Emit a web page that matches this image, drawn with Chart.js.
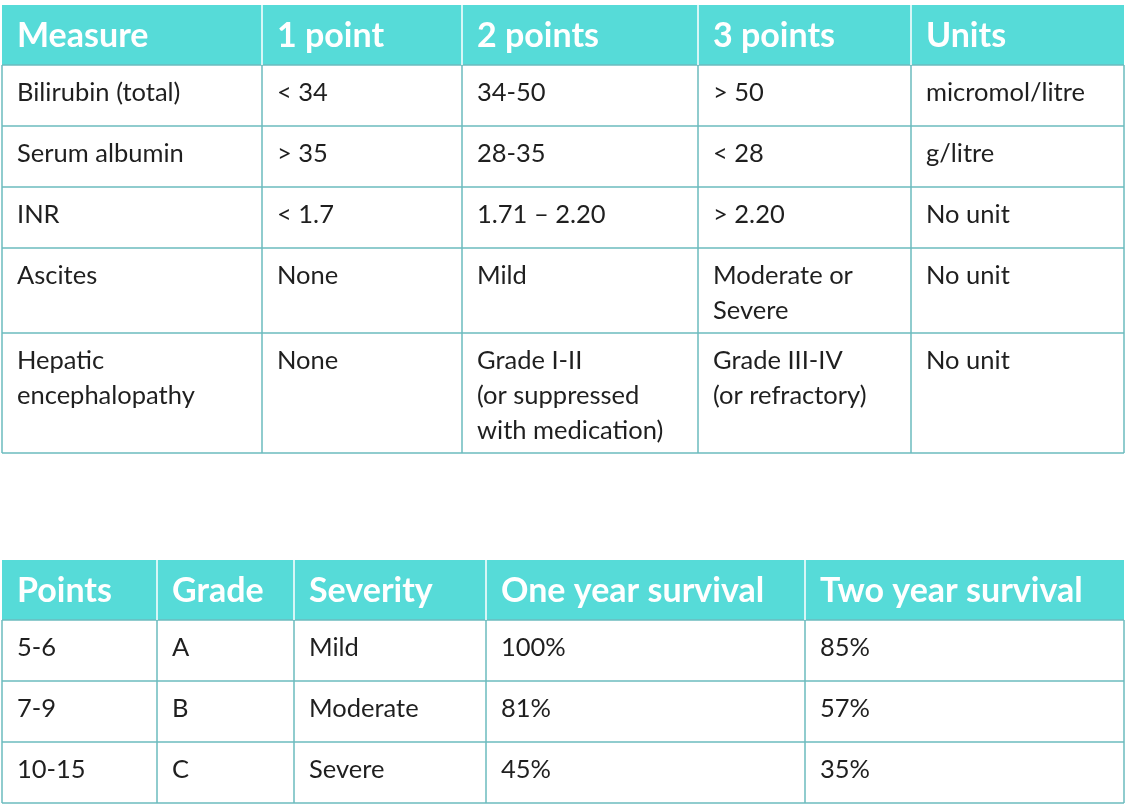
<!DOCTYPE html>
<html>
<head>
<meta charset="utf-8">
<script src="https://cdn.jsdelivr.net/npm/chart.js@4/dist/chart.umd.min.js"></script>
<style>
  html, body { margin: 0; padding: 0; background: #fff; }
  #wrap { width: 1127px; height: 806px; }
</style>
</head>
<body>
<div id="wrap"><canvas id="c" width="1127" height="806"></canvas></div>
<script>
// table 1: scoring criteria
const headers1 = ["Measure", "1 point", "2 points", "3 points", "Units"];
const rows1 = [
  [["Bilirubin (total)"], ["< 34"], ["34-50"], ["> 50"], ["micromol/litre"]],
  [["Serum albumin"], ["> 35"], ["28-35"], ["< 28"], ["g/litre"]],
  [["INR"], ["< 1.7"], ["1.71 \u2013 2.20"], ["> 2.20"], ["No unit"]],
  [["Ascites"], ["None"], ["Mild"], ["Moderate or", "Severe"], ["No unit"]],
  [["Hepatic", "encephalopathy"], ["None"], ["Grade I-II", "(or suppressed", "with medication)"], ["Grade III-IV", "(or refractory)"], ["No unit"]]
];
// table 2: grades and survival
const headers2 = ["Points", "Grade", "Severity", "One year survival", "Two year survival"];
const rows2 = [
  [["5-6"], ["A"], ["Mild"], ["100%"], ["85%"]],
  [["7-9"], ["B"], ["Moderate"], ["81%"], ["57%"]],
  [["10-15"], ["C"], ["Severe"], ["45%"], ["35%"]]
];

// layout
const layout1 = { cols: [2, 262, 462, 698, 911, 1124], rowsY: [5, 65, 126, 187, 248, 333, 453] };
const layout2 = { cols: [2, 157, 294, 486, 805, 1124], rowsY: [560, 620, 681, 742, 803] };
const HEAD_BG = '#56dbd8', LINE = '#6cbcbf', TEXT = '#1f1f1f';

function drawTable(ctx, headers, rows, L) {
  const { cols, rowsY } = L;
  ctx.fillStyle = HEAD_BG;
  ctx.fillRect(cols[0], rowsY[0], cols[cols.length - 1] - cols[0], rowsY[1] - rowsY[0]);
  ctx.textBaseline = 'middle';
  ctx.fillStyle = '#fff';
  ctx.font = 'bold 34px Lato, sans-serif';
  headers.forEach((h, i) => ctx.fillText(h, cols[i] + 15, (rowsY[0] + rowsY[1]) / 2 + 1));
  ctx.fillStyle = TEXT;
  ctx.font = '25.5px Lato, sans-serif';
  rows.forEach((r, ri) => {
    const top = rowsY[ri + 1];
    r.forEach((lines, ci) => lines.forEach((t, li) => ctx.fillText(t, cols[ci] + 15, top + 28 + li * 35)));
  });
  ctx.strokeStyle = LINE;
  ctx.lineWidth = 1.5;
  ctx.beginPath();
  rowsY.forEach((y, i) => {
    if (i === 0) return;
    ctx.moveTo(cols[0], y); ctx.lineTo(cols[cols.length - 1], y);
  });
  cols.forEach(x => { ctx.moveTo(x, rowsY[1]); ctx.lineTo(x, rowsY[rowsY.length - 1]); });
  ctx.stroke();
  // white separators inside header
  ctx.strokeStyle = '#ffffff';
  ctx.beginPath();
  cols.slice(1, -1).forEach(x => { ctx.moveTo(x, rowsY[0]); ctx.lineTo(x, rowsY[1]); });
  ctx.stroke();
}

const tablePlugin = {
  id: 'tables',
  afterDraw(chart) {
    const ctx = chart.ctx;
    ctx.save();
    drawTable(ctx, headers1, rows1, layout1);
    drawTable(ctx, headers2, rows2, layout2);
    ctx.restore();
  }
};

new Chart(document.getElementById('c'), {
  type: 'bar',
  data: { labels: [], datasets: [] },
  options: {
    responsive: false, animation: false,
    plugins: { legend: { display: false }, tooltip: { enabled: false } },
    scales: { x: { display: false }, y: { display: false } }
  },
  plugins: [tablePlugin]
});
</script>
</body>
</html>
